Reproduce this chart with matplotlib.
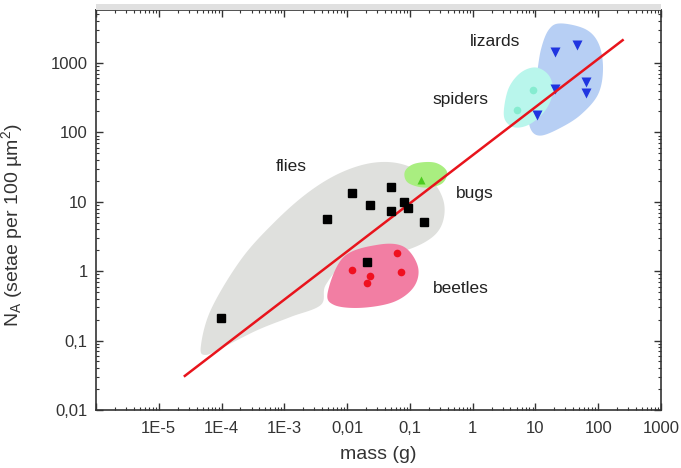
import numpy as np
import matplotlib
matplotlib.use("Agg")
import matplotlib.pyplot as plt
from matplotlib.patches import Rectangle
from matplotlib.ticker import FixedLocator, FixedFormatter, LogLocator, NullFormatter

plt.rcParams['font.family'] = ['Liberation Sans', 'DejaVu Sans']
plt.rcParams['mathtext.default'] = 'regular'

# ---- measured animals: body mass (g) and setal density N_A (per 100 um^2)
flies_mass = [0.0119, 0.0498, 0.0233, 0.0795, 0.0918, 0.0498, 0.00475, 0.169, 0.0204, 9.8e-5]
flies_N = [13.4, 16.1, 9.1, 9.8, 8.1, 7.4, 5.65, 5.1, 1.35, 0.21]

beetles_mass = [0.0118, 0.0614, 0.072, 0.0233, 0.0207]
beetles_N = [1.05, 1.82, 0.96, 0.84, 0.67]

bugs_mass = [0.153]
bugs_N = [20.4]

spiders_mass = [9.0, 5.07]
spiders_N = [405, 208]

lizards_mass = [20.5, 45.4, 63.8, 63.8, 20.5, 10.6]
lizards_N = [1430, 1790, 535, 371, 424, 181]

# ---- power-law fit N_A ~ m^b, drawn between its end values
fit_mass = [2.6e-5, 245]
fit_N = [0.031, 2130]

# ---- group envelopes, as (log10 mass, log10 N_A) outline vertices
flies_env_logm = [-4.331, -4.171, -3.693, -3.167, -2.626, -2.100, -1.574, -1.096, -0.665, -0.458,
                  -0.506, -0.777, -1.303, -1.988, -2.339, -2.418, -2.896, -3.422, -3.964, -4.251]
flies_env_logN = [-1.091, -0.557, 0.165, 0.698, 1.131, 1.420, 1.564, 1.535, 1.319, 0.987,
                  0.641, 0.410, 0.237, 0.136, -0.196, -0.485, -0.658, -0.846, -1.091, -1.206]

beetles_env_logm = [-2.307, -2.052, -1.510, -1.096, -0.872, -0.936, -1.255, -1.781, -2.211]
beetles_env_logN = [-0.297, 0.208, 0.381, 0.352, 0.064, -0.225, -0.442, -0.528, -0.485]

bugs_env_logm = [-1.080, -0.920, -0.601, -0.410, -0.490, -0.761, -1.032]
bugs_env_logN = [1.435, 1.550, 1.564, 1.435, 1.262, 1.204, 1.276]

spiders_env_logm = [0.498, 0.578, 0.769, 1.008, 1.215, 1.279, 1.167, 0.928, 0.689, 0.530]
spiders_env_logN = [2.329, 2.646, 2.863, 2.935, 2.820, 2.589, 2.329, 2.127, 2.069, 2.156]

lizards_env_logm = [1.215, 1.406, 1.805, 2.012, 2.076, 1.996, 1.725, 1.406, 1.088, 0.928,
                    0.896, 1.008, 1.088]
lizards_env_logN = [3.483, 3.570, 3.483, 3.267, 2.906, 2.545, 2.257, 2.069, 1.954, 2.040,
                    2.300, 2.762, 3.195]

# ---- group names and where they sit (log10 mass, log10 N_A)
group_names = ['flies', 'bugs', 'beetles', 'spiders', 'lizards']
name_logm = [-2.896, 0.036, -0.187, -0.187, 0.355]
name_logN = [1.506, 1.117, -0.254, 2.473, 3.310]

x_ticks = [1e-5, 1e-4, 1e-3, 1e-2, 1e-1, 1, 10, 100, 1000]
x_labels = ["1E-5", "1E-4", "1E-3", "0,01", "0,1", "1", "10", "100", "1000"]
y_ticks = [0.01, 0.1, 1, 10, 100, 1000]
y_labels = ["0,01", "0,1", "1", "10", "100", "1000"]


def closed_spline(xs, ys, n=24):
    """Closed Catmull-Rom curve through the outline vertices."""
    p = np.column_stack([xs, ys])
    m = len(p)
    out = []
    t = np.linspace(0, 1, n, endpoint=False)[:, None]
    for i in range(m):
        p0, p1, p2, p3 = p[i - 1], p[i], p[(i + 1) % m], p[(i + 2) % m]
        seg = 0.5 * ((2 * p1) + (-p0 + p2) * t + (2 * p0 - 5 * p1 + 4 * p2 - p3) * t ** 2
                     + (-p0 + 3 * p1 - 3 * p2 + p3) * t ** 3)
        out.append(seg)
    c = np.vstack(out)
    return 10 ** c[:, 0], 10 ** c[:, 1]


fig = plt.figure(figsize=(6.81, 4.68), dpi=100)
ax = fig.add_axes([96 / 681, 58 / 468, 565 / 681, 400 / 468])
ax.set_xscale('log')
ax.set_yscale('log')
ax.set_xlim(1e-6, 1e3)
ax.set_ylim(0.01, 5800)

# soft grey shadow along the top of the frame
fig.patches.append(Rectangle((96 / 681, 458 / 468), 565 / 681, 6 / 468,
                             transform=fig.transFigure, color='#e0e0e0', lw=0, zorder=0))

envelopes = [
    (flies_env_logm, flies_env_logN, '#dfe0dd'),
    (beetles_env_logm, beetles_env_logN, '#f27ea3'),
    (bugs_env_logm, bugs_env_logN, '#a9ee80'),
    (lizards_env_logm, lizards_env_logN, '#b7cff4'),
    (spiders_env_logm, spiders_env_logN, '#b9f6ec'),
]
for i, (lm, ln, col) in enumerate(envelopes):
    ex, ey = closed_spline(lm, ln)
    ax.fill(ex, ey, color=col, lw=0, zorder=1 + i * 0.1)

ax.plot(fit_mass, fit_N, color='#e8141c', lw=1.8, zorder=3)

ax.plot(flies_mass, flies_N, 's', color='black', ms=5.5, zorder=4)
ax.plot(beetles_mass, beetles_N, 'o', color='#f01020', ms=5.5, mec='none', zorder=4)
ax.plot(bugs_mass, bugs_N, '^', color='#4ccc20', ms=6, mec='none', zorder=4)
ax.plot(spiders_mass, spiders_N, 'o', color='#86ecd0', ms=5.5, mec='none', zorder=2)
ax.plot(lizards_mass, lizards_N, 'v', color='#2035e0', ms=7, mec='none', zorder=2.9)

for name, lm, ln in zip(group_names, name_logm, name_logN):
    ax.text(10 ** lm, 10 ** ln, name, fontsize=12.5, color='#222222',
            ha='center', va='center', zorder=5)

ax.xaxis.set_major_locator(FixedLocator([1e-6] + x_ticks))
ax.xaxis.set_major_formatter(FixedFormatter([""] + x_labels))
ax.yaxis.set_major_locator(FixedLocator(y_ticks))
ax.yaxis.set_major_formatter(FixedFormatter(y_labels))
ax.xaxis.set_minor_locator(LogLocator(base=10, subs=np.arange(2, 10), numticks=30))
ax.yaxis.set_minor_locator(LogLocator(base=10, subs=np.arange(2, 10), numticks=30))
ax.xaxis.set_minor_formatter(NullFormatter())
ax.yaxis.set_minor_formatter(NullFormatter())

ax.tick_params(which='both', direction='in', top=True, right=True, colors='#333333',
               labelsize=12, labelcolor='#333333')
ax.tick_params(which='major', length=5, width=1)
ax.tick_params(which='minor', length=2.5, width=0.8)
ax.tick_params(axis='x', pad=8)
ax.tick_params(axis='y', pad=6)
for s in ax.spines.values():
    s.set_linewidth(1.2)
    s.set_color('#333333')

ax.set_xlabel('mass (g)', fontsize=14, color='#333333', labelpad=7)
ax.set_ylabel('N$_A$ (setae per 100 µm$^2$)', fontsize=14, color='#333333')
ax.yaxis.set_label_coords(-0.125, 0.4625)

fig.savefig('out.png', dpi=100)
